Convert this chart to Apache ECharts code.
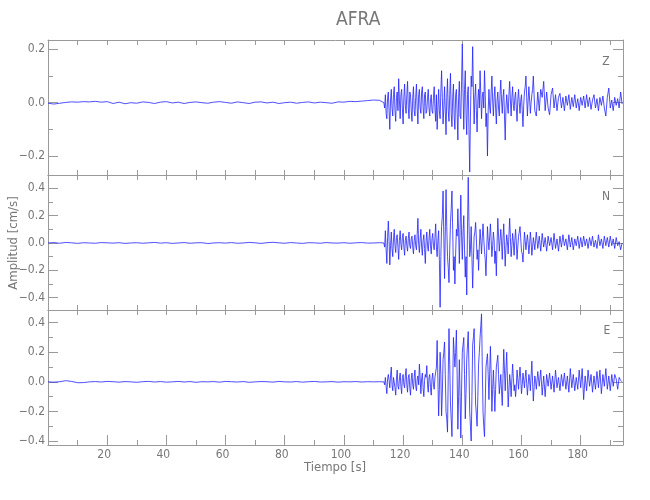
<!DOCTYPE html>
<html><head><meta charset="utf-8">
<script src="https://cdn.jsdelivr.net/npm/echarts@6/dist/echarts.min.js"></script>
<style>html,body{margin:0;padding:0;background:#fff}#c{width:650px;height:500px}</style>
</head><body><div id="c"></div><script>
const channels = ['Z', 'N', 'E'];
const preStart = 0, preStep = 2;        // quiet part, one reading every 2 s
const denseStart = 113.5, denseStep = 0.25; // strong shaking, one reading every 0.25 s
const tailStart = 165.5, tailStep = 0.5;    // coda, one reading every 0.5 s

const zPre = [-0.002,-0.005,-0.002,0.001,0.003,0.002,0.004,0.003,0.005,0.002,
0.004,-0.003,0.002,-0.004,0.000,-0.002,0.003,0.001,-0.003,0.002,
0.004,-0.001,0.002,-0.003,0.001,0.003,0.000,-0.002,0.002,0.004,
0.001,-0.002,0.003,0.000,-0.003,0.002,0.003,-0.001,0.002,-0.003,
0.000,0.002,-0.002,0.001,0.003,-0.001,0.002,0.000,-0.002,0.003,
0.002,0.005,0.004,0.006,0.008,0.010,0.009];
const zDense = [0.00,-0.02,0.03,-0.04,-0.06,0.02,0.04,-0.03,-0.10,0.01,
0.05,-0.02,-0.05,0.03,0.06,-0.03,-0.07,0.02,0.04,-0.03,
0.09,0.01,-0.06,0.03,0.05,-0.02,-0.08,0.02,0.07,-0.01,
-0.04,0.03,0.08,-0.02,-0.06,0.04,0.03,-0.03,-0.07,0.02,
0.06,-0.03,-0.05,0.02,0.07,-0.02,-0.08,0.03,0.05,-0.02,
-0.04,0.04,0.06,-0.02,-0.06,0.03,0.04,-0.04,-0.03,0.02,
0.05,-0.02,-0.05,0.01,0.03,-0.03,-0.04,0.02,0.06,-0.02,
-0.07,0.03,-0.10,-0.02,0.05,-0.03,-0.06,0.04,0.12,0.02,
-0.08,-0.02,0.06,-0.03,-0.12,0.02,0.09,-0.03,-0.07,0.03,
0.11,-0.04,-0.09,0.02,0.07,-0.05,-0.10,0.03,0.05,-0.04,
-0.14,0.02,0.08,-0.05,-0.06,0.08,0.22,0.04,-0.10,0.05,
0.12,-0.04,-0.12,0.03,0.06,-0.10,-0.26,-0.05,0.10,0.06,
0.21,0.04,-0.08,0.02,0.07,-0.03,-0.11,0.01,0.05,-0.02,
0.12,0.03,-0.06,0.02,0.04,-0.02,0.12,0.03,-0.09,-0.04,
-0.20,-0.03,0.05,-0.02,-0.04,0.04,0.10,0.01,-0.05,0.02,
0.06,-0.02,-0.08,0.01,0.04,-0.02,-0.05,0.03,0.085,0.01,
-0.04,0.02,0.05,-0.05,-0.14,-0.02,0.03,-0.01,-0.04,0.03,
0.08,0.01,-0.05,0.02,0.06,-0.01,-0.03,0.02,0.04,-0.02,
-0.07,0.01,0.05,0.00,-0.04,0.01,0.03,-0.03,-0.09,-0.01,
0.04,0.06,0.10,0.02,-0.05,0.01,0.06,0.01,-0.04,0.00,
0.03,0.05,0.10,0.03,-0.03,-0.04,-0.05];
const zTail = [0.04,-0.03,0.05,0.02,0.08,-0.03,
0.04,-0.02,-0.045,0.03,0.055,-0.02,0.03,-0.03,0.02,0.035,
-0.02,0.02,-0.03,0.025,-0.01,0.03,-0.025,0.02,-0.015,0.03,
-0.02,0.015,-0.03,0.02,-0.01,0.025,-0.02,0.03,-0.015,0.02,
-0.025,0.01,0.03,-0.02,0.015,-0.03,0.02,-0.01,0.025,-0.02,
-0.05,0.02,0.055,-0.02,0.01,-0.03,0.02,-0.01,0.015,-0.02,
0.04,-0.005];

const nPre = [0.000,0.003,-0.002,0.004,0.001,-0.003,0.002,0.000,-0.002,0.003,
0.001,-0.001,0.002,-0.003,0.000,0.002,-0.002,0.001,0.004,-0.001,
0.002,-0.003,0.000,0.003,-0.002,0.001,0.002,-0.004,0.000,0.002,
-0.001,0.003,-0.002,0.000,0.004,0.001,-0.003,0.002,0.005,0.001,
-0.002,0.003,0.000,-0.003,0.002,0.001,-0.002,0.003,0.000,-0.001,
0.002,-0.002,0.001,0.003,-0.001,0.000,0.002];
const nDense = [0.00,-0.03,0.09,-0.05,-0.15,0.04,0.16,0.02,-0.16,-0.02,
0.08,-0.04,-0.10,0.03,0.10,-0.02,-0.07,0.04,0.06,-0.03,
-0.12,0.02,0.09,-0.01,-0.05,0.04,0.07,-0.03,-0.09,0.02,
0.05,-0.02,-0.06,0.03,0.08,-0.02,-0.04,0.03,0.05,-0.03,
-0.08,0.02,0.06,-0.02,-0.05,0.06,0.18,-0.01,-0.07,0.03,
0.10,-0.03,-0.09,0.02,0.06,-0.04,-0.15,0.01,0.08,-0.02,
-0.06,0.03,0.10,-0.02,-0.08,0.03,0.07,-0.02,-0.05,0.04,
0.14,-0.03,-0.10,0.02,0.09,-0.12,-0.47,-0.10,0.12,0.20,
0.38,0.05,-0.26,0.08,0.39,0.12,-0.10,-0.18,-0.29,-0.05,
0.15,0.25,0.38,0.10,-0.20,-0.10,-0.30,-0.08,0.10,0.05,
0.25,0.08,-0.15,0.10,0.35,0.05,-0.12,0.08,0.20,-0.05,
-0.25,-0.10,-0.38,0.10,0.48,0.15,-0.10,-0.05,0.12,-0.10,
-0.33,-0.12,0.05,0.08,0.15,0.03,-0.12,-0.05,-0.20,-0.03,
0.10,0.02,-0.08,0.04,0.14,0.03,-0.06,-0.12,-0.24,-0.05,
0.12,0.02,-0.05,0.05,0.14,0.02,-0.10,-0.02,0.08,0.02,
-0.15,-0.06,-0.24,0.00,0.18,0.05,-0.06,0.02,0.10,0.01,
-0.12,0.03,0.14,-0.02,-0.17,-0.03,0.06,0.01,-0.08,0.05,
0.18,0.04,-0.10,-0.02,0.07,0.01,-0.09,0.02,0.10,0.00,
-0.12,-0.03,0.05,0.08,0.12,0.03,-0.06,-0.08,-0.14,-0.03,
0.08,0.02,-0.05,0.01,0.06,0.00,-0.08,-0.01,0.08,0.01,
-0.09,-0.03,0.04,0.00,-0.05,0.02,0.08];
const nTail = [-0.04,0.05,-0.06,0.07,-0.03,0.04,
-0.06,0.05,-0.02,0.04,-0.05,0.07,-0.04,0.03,-0.06,0.05,
-0.03,0.06,-0.02,0.03,-0.05,0.06,-0.03,0.04,-0.05,0.03,
-0.02,0.05,-0.04,0.04,-0.03,0.05,-0.02,0.03,-0.04,0.04,
-0.02,0.05,-0.03,0.02,-0.04,0.06,-0.02,0.03,-0.04,0.05,
-0.02,0.04,-0.03,0.05,-0.02,0.03,-0.04,0.04,-0.02,0.01,
-0.05,0.00];

const ePre = [0.000,-0.002,0.001,0.008,0.003,-0.006,-0.005,0.000,0.002,-0.001,
0.003,0.001,-0.002,0.002,0.000,-0.003,0.001,0.003,-0.001,0.002,
-0.002,0.000,0.003,-0.001,0.002,-0.003,0.001,0.000,0.002,-0.002,
0.003,0.001,-0.001,0.002,-0.003,0.000,0.002,0.001,-0.002,0.003,
0.000,-0.001,0.002,-0.002,0.001,0.003,-0.001,0.000,0.002,-0.002,
0.001,0.000,0.002,-0.001,0.001,0.000,0.001];
const eDense = [0.00,-0.02,0.03,-0.03,-0.08,0.02,0.05,0.01,-0.04,0.04,
0.10,-0.02,-0.06,0.03,0.04,-0.04,-0.09,0.02,0.08,-0.03,
-0.05,0.02,0.06,-0.03,-0.08,0.03,0.05,-0.02,-0.04,0.04,
0.09,-0.02,-0.07,0.03,0.05,-0.04,-0.09,0.02,0.06,-0.02,
-0.05,0.03,0.08,-0.03,-0.06,0.02,0.04,-0.02,0.12,0.03,
-0.08,0.02,0.06,-0.04,-0.10,0.01,0.05,0.03,0.11,-0.02,
-0.07,0.03,0.05,-0.04,-0.09,0.02,0.06,-0.02,-0.05,0.03,
0.04,0.10,0.28,0.02,-0.23,-0.05,0.20,0.05,-0.23,-0.08,
0.15,0.20,0.27,0.05,-0.20,-0.25,-0.34,0.05,0.36,0.12,
-0.15,-0.25,-0.37,-0.05,0.30,0.20,0.10,0.20,0.35,0.05,
-0.32,-0.10,0.15,-0.10,-0.38,-0.05,0.20,0.25,0.30,0.05,
-0.25,-0.08,0.15,0.25,0.34,0.10,-0.20,-0.30,-0.40,-0.10,
0.25,0.30,0.36,0.10,-0.15,-0.22,-0.30,-0.10,0.12,0.20,
0.30,0.38,0.46,0.10,-0.20,-0.30,-0.37,-0.15,0.10,0.15,
0.19,0.05,-0.12,0.06,0.24,0.05,-0.20,-0.05,0.08,-0.05,
-0.20,-0.05,0.10,0.14,0.18,0.05,-0.08,-0.02,0.05,-0.06,
-0.16,0.03,0.22,0.08,-0.06,0.08,0.20,0.02,-0.17,-0.06,
0.05,0.00,-0.10,0.02,0.12,0.03,-0.06,-0.02,-0.10,-0.03,
0.08,0.02,-0.05,0.03,0.10,0.02,-0.08,-0.02,0.06,0.01,
-0.04,0.03,0.08,-0.01,-0.09,-0.02,0.05,0.01,-0.06,0.04,
0.14,0.00,-0.13,-0.04,0.04,0.01,-0.05];
const eTail = [0.07,-0.03,0.08,-0.09,0.04,-0.10,
0.05,-0.03,0.06,-0.05,0.04,-0.07,0.08,-0.04,0.03,-0.06,
0.05,-0.03,0.06,-0.05,0.04,-0.07,0.09,-0.04,0.05,-0.06,
0.03,-0.05,0.08,-0.04,0.09,-0.12,0.04,-0.06,0.08,-0.03,
0.05,-0.07,0.04,-0.05,0.07,-0.04,0.08,-0.08,0.05,-0.03,
0.09,-0.05,0.04,-0.06,0.05,-0.03,0.05,0.02,-0.05,0.03,
0.01,0.00];

const xRange = [0, 194.3];
const xTickValues = [10,20,30,40,50,60,70,80,90,100,110,120,130,140,150,160,170,180,190];
const xLabelValues = [20,40,60,80,100,120,140,160,180];
const yRanges = [[-0.271, 0.235], [-0.49, 0.497], [-0.427, 0.486]];
const yMajor = [[-0.2,0,0.2], [-0.4,-0.2,0,0.2,0.4], [-0.4,-0.2,0,0.2,0.4]];
const yMinor = [[-0.1,0.1], [-0.3,-0.1,0.1,0.3], [-0.3,-0.1,0.1,0.3]];

const pres = [zPre, nPre, ePre];
const denses = [zDense, nDense, eDense];
const tails = [zTail, nTail, eTail];

const FONT = '"Liberation Sans Narrow","DejaVu Sans Condensed",sans-serif';
const AX = '#9a9a9a';
const TXT = '#777777';
const tops = [40, 175, 310];

function build(pre, dense, tail) {
  const d = [];
  pre.forEach((v, i) => d.push([preStart + i * preStep, v]));
  dense.forEach((v, i) => d.push([denseStart + i * denseStep, v]));
  tail.forEach((v, i) => d.push([tailStart + i * tailStep, v]));
  return d;
}

const grid = [], xAxis = [], yAxis = [], series = [];
const fmtY = v => (v < 0 ? '\u2212' : '') + Math.abs(v).toFixed(1);

for (let g = 0; g < 3; g++) {
  grid.push({left: 48, width: 575, top: tops[g], height: 135, containLabel: false});
  const base = {gridIndex: g, type: 'value', min: xRange[0], max: xRange[1], splitLine: {show: false}};
  const xb = xAxis.length;
  xAxis.push(Object.assign({}, base, {
    position: 'bottom',
    axisLine: {show: true, onZero: false, lineStyle: {color: AX, width: 1}},
    axisTick: {show: true, inside: true, length: 5, customValues: xTickValues, lineStyle: {color: AX}},
    axisLabel: {show: g === 2, customValues: xLabelValues, margin: 4, color: TXT, fontFamily: FONT, fontSize: 12, padding: [0, 6, 0, 0]}
  }));
  xAxis.push(Object.assign({}, base, {
    position: 'top',
    axisLine: {show: true, onZero: false, lineStyle: {color: AX, width: 1}},
    axisTick: {show: true, inside: true, length: 5, customValues: xTickValues, lineStyle: {color: AX}},
    axisLabel: {show: false}
  }));
  if (g === 2) {
    xAxis.push(Object.assign({}, base, {
      position: 'bottom',
      axisLine: {show: false, onZero: false},
      axisTick: {show: true, inside: true, length: 10, customValues: xLabelValues, lineStyle: {color: AX}},
      axisLabel: {show: false}
    }));
  }
  const yb = yAxis.length;
  const ybase = {gridIndex: g, type: 'value', min: yRanges[g][0], max: yRanges[g][1], splitLine: {show: false}};
  yAxis.push(Object.assign({}, ybase, {
    position: 'left',
    axisLine: {show: true, onZero: false, lineStyle: {color: AX, width: 1}},
    axisTick: {show: true, inside: true, length: 10, customValues: yMajor[g], lineStyle: {color: AX}},
    axisLabel: {show: true, customValues: yMajor[g], formatter: fmtY, margin: 3, color: TXT, fontFamily: FONT, fontSize: 12}
  }));
  yAxis.push(Object.assign({}, ybase, {
    position: 'left',
    axisLine: {show: false, onZero: false},
    axisTick: {show: true, inside: true, length: 5, customValues: yMinor[g], lineStyle: {color: AX}},
    axisLabel: {show: false}
  }));
  yAxis.push(Object.assign({}, ybase, {
    position: 'right',
    axisLine: {show: true, onZero: false, lineStyle: {color: AX, width: 1}},
    axisTick: {show: true, inside: true, length: 10, customValues: yMajor[g], lineStyle: {color: AX}},
    axisLabel: {show: false}
  }));
  yAxis.push(Object.assign({}, ybase, {
    position: 'right',
    axisLine: {show: false, onZero: false},
    axisTick: {show: true, inside: true, length: 5, customValues: yMinor[g], lineStyle: {color: AX}},
    axisLabel: {show: false}
  }));
  series.push({
    type: 'line', xAxisIndex: xb, yAxisIndex: yb,
    data: build(pres[g], denses[g], tails[g]),
    showSymbol: false, symbol: 'none', silent: true,
    lineStyle: {color: '#2222ff', width: 0.8},
    clip: true
  });
}

const labelPos = [[606, 62], [606, 197], [607, 331]];
const graphic = [
  {type: 'text', left: 336, top: 11, style: {text: 'AFRA', fill: TXT, font: '19px ' + FONT, textAlign: 'center'}},
  {type: 'text', x: 335, y: 468, style: {text: 'Tiempo [s]', fill: TXT, font: '13px ' + FONT, align: 'center', verticalAlign: 'middle'}},
  {type: 'text', x: 14, y: 243, rotation: Math.PI / 2, style: {text: 'Amplitud [cm/s]', fill: TXT, font: '13px ' + FONT, align: 'center', verticalAlign: 'middle'}}
];
channels.forEach((c, i) => graphic.push({type: 'text', x: labelPos[i][0], y: labelPos[i][1],
  style: {text: c, fill: TXT, font: '12px ' + FONT, align: 'center', verticalAlign: 'middle'}}));

const chart = echarts.init(document.getElementById('c'));
chart.setOption({animation: false, backgroundColor: '#fff', grid, xAxis, yAxis, series, graphic});
</script></body></html>
